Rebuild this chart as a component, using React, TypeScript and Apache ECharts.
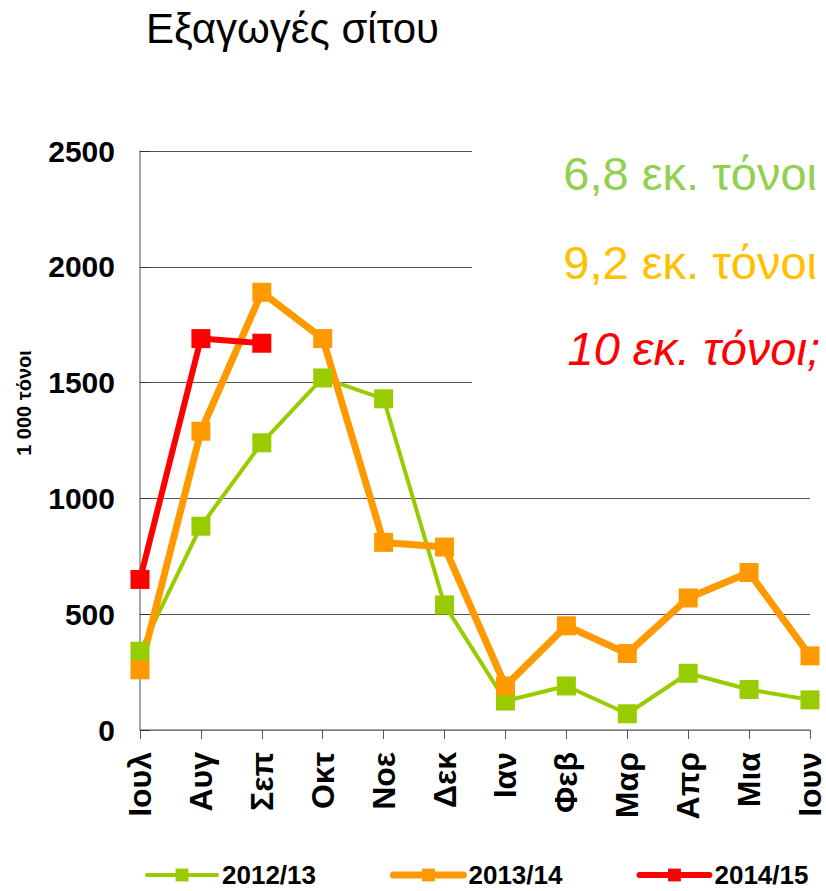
import React, { useEffect, useRef } from "react";
import * as echarts from "echarts";

const months = ["Ιουλ", "Αυγ", "Σεπ", "Οκτ", "Νοε", "Δεκ", "Ιαν", "Φεβ", "Μαρ", "Απρ", "Μια", "Ιουν"];
const exports1213 = [340, 880, 1240, 1520, 1430, 540, 125, 190, 70, 245, 175, 130];
const exports1314 = [260, 1290, 1890, 1690, 810, 790, 190, 450, 330, 570, 680, 320];
const exports1415 = [650, 1690, 1670, null, null, null, null, null, null, null, null, null];
const seriesNames = ["2012/13", "2013/14", "2014/15"];
const yTicks = { min: 0, max: 2500, interval: 500 };
const titleText = "Εξαγωγές σίτου";
const yAxisTitle = "1 000 τόνοι";
const notes = ["6,8 εκ. τόνοι", "9,2 εκ. τόνοι", "10 εκ. τόνοι;"];

const FONT = "'Liberation Sans', Arial, sans-serif";
const COLORS = ["#99cc00", "#ff9900", "#ff0000"];
const WIDTHS = [4, 7, 6];

export default function App() {
  const ref = useRef<HTMLDivElement>(null);
  useEffect(() => {
    if (!ref.current) return;
    const chart = echarts.init(ref.current, null, { renderer: "svg" });
    const mk = (i: number, data: any[]) => ({
      name: seriesNames[i],
      type: "line",
      data,
      symbol: "rect",
      symbolSize: 19,
      connectNulls: false,
      itemStyle: { color: COLORS[i] },
      lineStyle: { color: COLORS[i], width: WIDTHS[i] },
      emphasis: { disabled: true },
    });
    chart.setOption({
      animation: false,
      backgroundColor: "#ffffff",
      textStyle: { fontFamily: FONT },
      grid: { left: 140, right: 16, top: 151, bottom: 161, containLabel: false },
      xAxis: {
        type: "category",
        data: months,
        boundaryGap: false,
        axisLine: { lineStyle: { color: "#888888", width: 1.5 } },
        axisTick: { show: true, length: 9, alignWithLabel: true, lineStyle: { color: "#555555" } },
        axisLabel: {
          interval: 0,
          rotate: 90,
          margin: 22,
          fontSize: 32,
          fontWeight: "bold",
          color: "#000000",
          fontFamily: FONT,
        },
        splitLine: { show: false },
      },
      yAxis: {
        type: "value",
        min: yTicks.min,
        max: yTicks.max,
        interval: yTicks.interval,
        axisLine: { show: true, lineStyle: { color: "#888888", width: 1.5 } },
        axisTick: { show: true, inside: true, length: 10, lineStyle: { color: "#333333" } },
        axisLabel: {
          margin: 25,
          fontSize: 30,
          fontWeight: "bold",
          color: "#000000",
          fontFamily: FONT,
          formatter: (v: number) => String(v),
        },
        splitLine: { show: true, lineStyle: { color: "#555555", width: 1.2 } },
      },
      legend: {
        data: seriesNames.map((n, i) => ({ name: n, lineStyle: { width: WIDTHS[i], color: COLORS[i], cap: "round" } })),
        left: 145,
        top: 862,
        padding: 0,
        itemWidth: 70,
        itemHeight: 16,
        itemGap: 74,
        textStyle: { fontSize: 26, fontWeight: "bold", color: "#000000", fontFamily: FONT },
      },
      graphic: [
        { type: "rect", z: 1, shape: { x: 472, y: 140, width: 354, height: 255 }, style: { fill: "#ffffff" } },
        {
          type: "text", z: 10, x: 146, y: 28,
          style: { text: titleText, fontSize: 42, fontFamily: FONT, fill: "#000000", textVerticalAlign: "middle", textAlign: "left" },
        },
        {
          type: "text", z: 10, x: 24, y: 403, rotation: Math.PI / 2,
          style: { text: yAxisTitle, fontSize: 20, fontWeight: "bold", fontFamily: FONT, fill: "#000000", textAlign: "center", textVerticalAlign: "middle" },
        },
        {
          type: "text", z: 10, x: 817, y: 173,
          style: { text: notes[0], fontSize: 47, fontFamily: FONT, fill: "#92d050", textAlign: "right", textVerticalAlign: "middle" },
        },
        {
          type: "text", z: 10, x: 817, y: 262,
          style: { text: notes[1], fontSize: 47, fontFamily: FONT, fill: "#ffc000", textAlign: "right", textVerticalAlign: "middle" },
        },
        {
          type: "text", z: 10, x: 820, y: 348,
          style: { text: notes[2], fontSize: 47, fontStyle: "italic", fontFamily: FONT, fill: "#ff0000", textAlign: "right", textVerticalAlign: "middle" },
        },
      ],
      series: [mk(0, exports1213), mk(1, exports1314), mk(2, exports1415)],
    });
    return () => chart.dispose();
  }, []);
  return <div ref={ref} style={{ width: 826, height: 891, position: "absolute", left: 0, top: 0 }} />;
}
